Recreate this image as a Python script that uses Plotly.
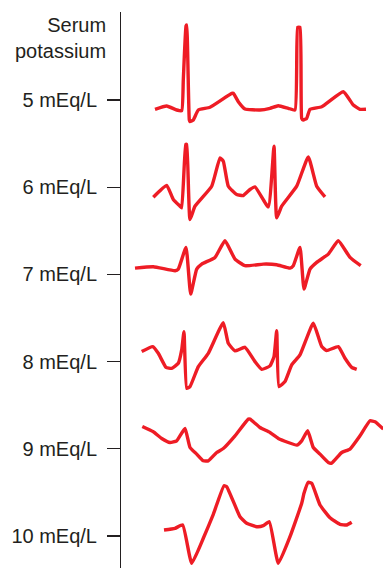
import plotly.graph_objects as go

# Serum potassium levels (mEq/L) and tick labels
levels = [5, 6, 7, 8, 9, 10]
tick_labels = ["5 mEq/L", "6 mEq/L", "7 mEq/L", "8 mEq/L", "9 mEq/L", "10 mEq/L"]

# ECG tracings: time (arbitrary units) and deflection (arbitrary units, + = upward)
t_5 = [155, 166.7, 176.7, 181.7, 183.3, 186, 186.7, 189.3, 190, 193.3, 198.3, 210, 231.7, 233.3, 238.3, 245, 260, 270,
       278.3, 288.3, 295, 297.7, 300, 301.7, 303.3, 306.7, 310, 321.7, 343.3, 353.3, 360, 366]
v_5 = [-9.3, -6, -10, -10.7, 20, 74, 75, -20, -21.7, -20, -10, -7.3, 6.7, 6.7, -1.7, -9, -10, -8.3,
       -5.7, -8.3, -10, 72.7, 72.7, -18.3, -20, -18.3, -9.3, -6.7, 8.3, -5, -9.3, -9.3]

t_6 = [153.3, 166.7, 173.3, 180, 181.7, 185.7, 186.7, 190, 195, 211.7, 220, 223.3, 228.3, 236.7, 243.3, 250, 255,
       268.3, 274, 276.7, 281.7, 296.7, 308.3, 316.7, 325]
v_6 = [-10, 1.7, -12.3, -19, -20.7, 42.7, 42.7, -32.3, -19, 1, 29.3, 26, 1, -7.3, -8.3, -2.3, 0.3,
       -19.7, 41, -30.7, -19, 1, 30.3, 1, -9.7]

t_7 = [135, 153.3, 175, 178.3, 186, 190.7, 196.7, 201.7, 215, 225, 235, 245, 263.3, 276.7, 290, 293.3, 300, 304,
       310, 316.7, 328.3, 338.3, 350, 360.7]
v_7 = [6.3, 7.7, 3.7, 5.3, 27, -19.7, 5.3, 10.3, 17, 33.7, 15.3, 8.7, 10.3, 9.7, 6.3, 8.7, 27, -14.7,
       5.3, 12, 20.3, 33.7, 17, 8.7]

t_8 = [141.7, 152.7, 158.3, 166, 171.7, 178.3, 181.7, 184, 186.7, 190, 198.3, 208.3, 223.3, 228.3, 235, 245, 255,
       261.7, 270, 274, 276.7, 279, 285, 291.7, 300, 313.3, 321.7, 326.7, 338.3, 345, 351.7, 356.7]
v_8 = [10, 15, 8.3, -5.7, -6.7, -1.7, 11.7, 30, -26.7, -25, -5, 8.3, 39, 18.3, 10.7, 14.3, 0,
       -7.7, -4.3, 5, 31, -25, -20, -3.3, 6.7, 38.3, 15, 11, 15, 3.3, -5.7, -7.7]

t_9 = [142.3, 153.3, 161.7, 170, 176.7, 185, 190, 196.7, 203.3, 208.3, 216.7, 223.3, 235, 248.3, 250, 260, 270,
       278.3, 288.3, 296.7, 301.7, 307.7, 313.3, 320, 328.3, 331.7, 341.7, 350, 360, 370, 375, 383.3]
v_9 = [22.3, 17, 10.3, 6.3, 8, 20.3, 1.3, -5.3, -12, -12, -3.7, 0.3, 13, 29.7, 29.7, 21.3, 16.3,
       10.3, 6.3, 3.7, 8, 18, 1.3, -5.3, -13.7, -14.3, -3.7, -0.3, 13, 28, 27, 19.7]

t_10 = [164, 175, 182.7, 191.7, 203.3, 213.3, 224, 226.7, 240, 246.7, 256.7, 263.3, 269.3, 278.3, 290, 301.7,
        304, 308.3, 311.7, 320, 330, 340, 346.7, 351.7]
v_10 = [6, 7.7, 11, -27.3, -2.3, 21.7, 50.3, 49.3, 19.3, 12.7, 9.3, 10.3, 14.3, -27.3, -0.7, 32.7,
        42.7, 53.7, 52.7, 31, 18.3, 11.7, 11, 13.7]

tracings = [(t_5, v_5), (t_6, v_6), (t_7, v_7), (t_8, v_8), (t_9, v_9), (t_10, v_10)]

GAIN = 87.2  # deflection units per mEq/L row spacing
RED = "#EE1C25"
INK = "#231F20"
FONT = "Liberation Sans, Arial, Helvetica, sans-serif"

fig = go.Figure()
for lvl, (t, v) in zip(levels, tracings):
    fig.add_trace(go.Scatter(
        x=t, y=[lvl - d / GAIN for d in v], mode="lines",
        line=dict(color=RED, width=3.4, shape="spline", smoothing=0.4),
        hoverinfo="skip", showlegend=False,
    ))

W, H = 383, 568
top_px, axis_x = 12, 120
y_top = 5 - (100 - top_px) / GAIN
y_bot = 10 + (H - 536) / GAIN

fig.update_layout(
    width=W, height=H, margin=dict(l=0, r=0, t=0, b=0),
    paper_bgcolor="white", plot_bgcolor="white",
    xaxis=dict(range=[0, W], visible=False, fixedrange=True),
    yaxis=dict(
        range=[y_bot, y_top], domain=[0, (H - top_px) / H],
        anchor="free", position=axis_x / W, fixedrange=True,
        tickmode="array", tickvals=levels, ticktext=tick_labels,
        ticks="outside", ticklen=13, tickwidth=1.4, tickcolor=INK,
        showline=True, linecolor=INK, linewidth=1.4,
        showgrid=False, zeroline=False, ticklabelstandoff=6,
        tickfont=dict(family=FONT, size=20, color=INK),
    ),
    annotations=[dict(
        text="Serum<br>potassium", xref="paper", yref="paper",
        x=108 / W, y=1 - 12 / H, xanchor="right", yanchor="top", align="right",
        showarrow=False, font=dict(family=FONT, size=20, color=INK),
    )],
)

fig.write_html(
    "out.html",
    config={"displayModeBar": False, "staticPlot": True},
    post_script="document.body.style.margin='0';document.body.style.overflow='hidden';",
)
